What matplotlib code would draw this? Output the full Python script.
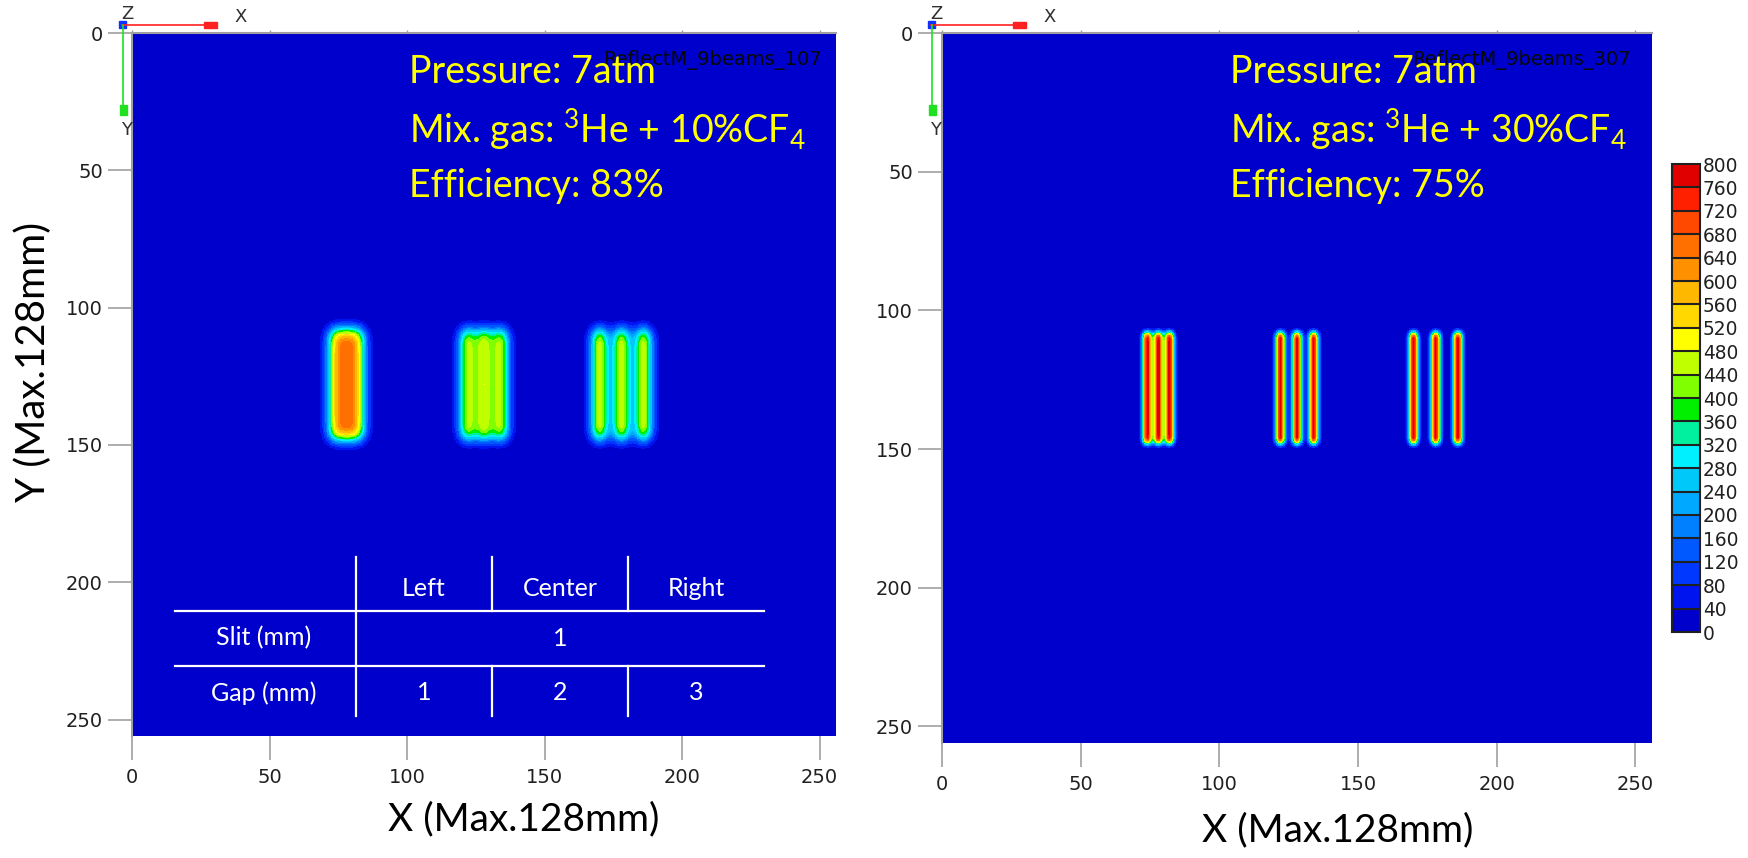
import math
import numpy as np
import matplotlib
matplotlib.use("Agg")
import matplotlib.pyplot as plt
from matplotlib.colors import ListedColormap, BoundaryNorm
from matplotlib.patches import Rectangle

# Data
levels = list(range(0, 840, 40))
level_colors = ["#0000cc", "#0014f0", "#0038ff", "#0058ff", "#0080ff",
                "#00a8ff", "#00c8f8", "#00f0ff", "#00f0a0", "#00f000",
                "#80ff00", "#c0ff00", "#ffff00", "#ffd800", "#ffb800",
                "#ff9000", "#ff7000", "#ff4800", "#ff2000", "#e00000"]
slit_mm = 1
gap_mm = [1, 2, 3]
group_start_px = [74, 122, 170]      # centre of first slit in each group
slit_y_px = [108, 148]
peak_counts = [[675, 480, 465],      # 10% CF4
               [790, 790, 790]]      # 30% CF4
blur_px = [2.5, 1.1]
run_names = ["ReflectM_9beams_107", "ReflectM_9beams_307"]
pressure_atm = [7, 7]
cf4_pct = [10, 30]
efficiency_pct = [83, 75]
table_cols = ["Left", "Center", "Right"]
table_rows = ["Slit (mm)", "Gap (mm)"]
gap_labels = ["1", "2", "3"]
slit_label = "1"

LABEL_FONT = ["Lato", "DejaVu Sans"]
PIX_FONT = ["DejaVu Sans"]
NARROW_FONT = ["Liberation Sans Narrow", "DejaVu Sans"]
plt.rcParams["mathtext.fontset"] = "custom"
plt.rcParams["mathtext.rm"] = "Lato"

cmap = ListedColormap(level_colors)
norm = BoundaryNorm(levels, cmap.N)

grid = np.arange(0, 256, 0.25) + 0.125


def erf(a):
    return np.array([math.erf(v) for v in a])


def box(u, lo, hi, s):
    k = s * math.sqrt(2)
    return 0.5 * (erf((u - lo) / k) - erf((u - hi) / k))


def build_image(peaks, s):
    py = box(grid, slit_y_px[0], slit_y_px[1], s)
    py = py / py.max()
    img = np.zeros((grid.size, grid.size))
    w = slit_mm * 2
    for start, gap, peak in zip(group_start_px, gap_mm, peaks):
        px = np.zeros_like(grid)
        for k in range(3):
            c = start + k * (slit_mm + gap) * 2
            px += box(grid, c - w / 2, c + w / 2, s)
        px = px / px.max()
        img += peak * np.outer(py, px)
    return img


W, H = 1748, 858
fig = plt.figure(figsize=(W / 100, H / 100), dpi=100)

panels = [(132, 33, 704, 703), (942, 33, 710, 710)]   # left, top, width, height in px
axes = []
for (l, t, w, h), peaks, s in zip(panels, peak_counts, blur_px):
    ax = fig.add_axes([l / W, 1 - (t + h) / H, w / W, h / H])
    ax.imshow(build_image(peaks, s), extent=[0, 256, 256, 0], cmap=cmap, norm=norm,
              interpolation="nearest", aspect="auto")
    ax.set_xlim(0, 256)
    ax.set_ylim(256, 0)
    ax.set_xticks(range(0, 251, 50))
    ax.set_yticks(range(0, 251, 50))
    for side in ["bottom", "right", "top"]:
        ax.spines[side].set_visible(False)
    ax.spines["left"].set_color("#a0a0a0")
    ax.spines["left"].set_linewidth(1.5)
    ax.tick_params(direction="out", length=17, width=1.2, color="#a0a0a0",
                   labelsize=14, labelcolor="#202020")
    ax.tick_params(axis="x", pad=6)
    ax.tick_params(axis="y", pad=4)
    for lab in ax.get_xticklabels() + ax.get_yticklabels():
        lab.set_family(PIX_FONT)
    top = ax.secondary_xaxis("top")
    top.set_xticks(range(0, 251, 50))
    top.tick_params(direction="out", length=2, width=1.0, color="#a0a0a0", labeltop=False)
    top.spines["top"].set_color("#a0a0a0")
    top.spines["top"].set_linewidth(1.5)
    axes.append(ax)

# colorbar
cax = fig.add_axes([1672 / W, 1 - 632 / H, 28 / W, 468 / H])
sm = plt.cm.ScalarMappable(cmap=cmap, norm=norm)
cb = fig.colorbar(sm, cax=cax, ticks=levels, drawedges=True)
cb.outline.set_edgecolor("#202020")
cb.outline.set_linewidth(1.5)
cb.dividers.set_color("#202020")
cb.dividers.set_linewidth(1.5)
cax.tick_params(length=0, pad=2, labelsize=13.4, labelcolor="#202020")
for lab in cax.get_yticklabels():
    lab.set_family(NARROW_FONT)

# overlay in pixel coordinates for annotations
ov = fig.add_axes([0, 0, 1, 1], zorder=5)
ov.set_xlim(0, W)
ov.set_ylim(H, 0)
ov.axis("off")
ov.patch.set_alpha(0)

text_x = [409, 1230]
for i, ox in enumerate([0, 809]):
    # coordinate triad
    ov.plot([122 + ox, 210 + ox], [24.5, 24.5], color="#ff2020", lw=1.2)
    ov.add_patch(Rectangle((204 + ox, 21.5), 13, 6, color="#ff2020"))
    ov.plot([123 + ox, 123 + ox], [25, 110], color="#20e020", lw=1.2)
    ov.add_patch(Rectangle((119.5 + ox, 105), 7, 10, color="#20e020"))
    ov.add_patch(Rectangle((119 + ox, 21), 7, 7, color="#1030ff"))
    ov.text(127 + ox, 14, "Z", fontsize=13, color="#303030", ha="center", va="center", family=PIX_FONT)
    ov.text(241 + ox, 17, "X", fontsize=13, color="#303030", ha="center", va="center", family=PIX_FONT)
    ov.text(127 + ox, 130, "Y", fontsize=13, color="#303030", ha="center", va="center", family=PIX_FONT)

    # run name and conditions
    ov.text(822 + ox, 60, run_names[i], fontsize=14, color="#080808", ha="right", va="center",
            family=NARROW_FONT)
    tx = text_x[i]
    ov.text(tx, 72, f"Pressure: {pressure_atm[i]}atm", fontsize=27, color="#ffff00",
            ha="left", va="center", family=LABEL_FONT)
    ov.text(tx, 130, "Mix. gas: $^{3}$He + " + f"{cf4_pct[i]}%CF" + "$_{4}$", fontsize=27,
            color="#ffff00", ha="left", va="center", family=LABEL_FONT)
    ov.text(tx, 186, f"Efficiency: {efficiency_pct[i]}%", fontsize=27, color="#ffff00",
            ha="left", va="center", family=LABEL_FONT)

# axis labels
ov.text(33, 362, "Y (Max.128mm)", fontsize=29, rotation=90, ha="center", va="center",
        family=LABEL_FONT, color="black")
ov.text(524, 819, "X (Max.128mm)", fontsize=28, ha="center", va="center",
        family=LABEL_FONT, color="black")
ov.text(1338, 830, "X (Max.128mm)", fontsize=28, ha="center", va="center",
        family=LABEL_FONT, color="black")

# slit / gap table on the left panel
ov.plot([175, 764], [611, 611], color="white", lw=1.6)
ov.plot([175, 764], [666, 666], color="white", lw=1.6)
ov.plot([356, 356], [557, 716], color="white", lw=1.6)
for x in [492, 628]:
    ov.plot([x, x], [557, 611], color="white", lw=1.6)
    ov.plot([x, x], [666, 716], color="white", lw=1.6)
col_x = [424, 560, 696]
for x, name in zip(col_x, table_cols):
    ov.text(x, 588, name, fontsize=18, color="white", ha="center", va="center", family=LABEL_FONT)
for y, name in zip([638, 693], table_rows):
    ov.text(264, y, name, fontsize=18, color="white", ha="center", va="center", family=LABEL_FONT)
ov.text(560, 638, slit_label, fontsize=18, color="white", ha="center", va="center", family=LABEL_FONT)
for x, g in zip(col_x, gap_labels):
    ov.text(x, 693, g, fontsize=18, color="white", ha="center", va="center", family=LABEL_FONT)

fig.savefig("out.png", dpi=100)
